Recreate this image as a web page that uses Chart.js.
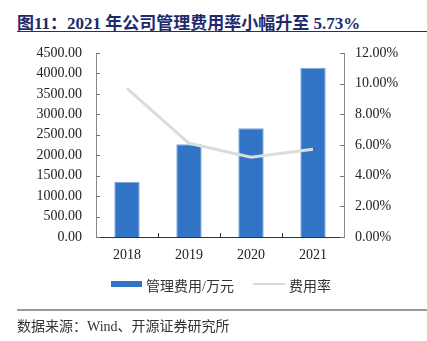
<!DOCTYPE html>
<html>
<head>
<meta charset="utf-8">
<script src="https://cdn.jsdelivr.net/npm/chart.js@4/dist/chart.umd.min.js"></script>
<style>
  body { margin: 0; background: #fff; }
  #wrap { position: relative; width: 427px; height: 341px; overflow: hidden; }
  #chart { position: absolute; left: 0; top: 0; }
  .title { position: absolute; left: 17px; top: 9px; font: bold 17px "Liberation Serif", "Noto Sans CJK SC", serif; color: #1f2a6b; white-space: nowrap; }
  .rule-top { position: absolute; left: 17px; top: 31px; width: 410px; height: 1px; background: #333; }
  .rule-bot { position: absolute; left: 17px; top: 309px; width: 410px; height: 2px; background: #9a9a9a; }
  .source { position: absolute; left: 17px; top: 315px; font: 14px "Liberation Serif", "Noto Sans CJK SC", serif; color: #333; white-space: nowrap; }
  .legend { position: absolute; top: 275px; font: 14px "Liberation Serif", "Noto Sans CJK SC", serif; color: #333; white-space: nowrap; }
  .sw { position: absolute; }
</style>
</head>
<body>
<div id="wrap">
  <div class="title">图11：2021 年公司管理费用率小幅升至 5.73%</div>
  <div class="rule-top"></div>
  <canvas id="chart" width="427" height="341"></canvas>
  <div class="sw" style="left:111px; top:281px; width:31px; height:6px; background:#3174c6;"></div>
  <div class="legend" style="left:146px;">管理费用/万元</div>
  <div class="sw" style="left:253px; top:283px; width:32px; height:2px; background:#d9d9d9;"></div>
  <div class="legend" style="left:289px;">费用率</div>
  <div class="rule-bot"></div>
  <div class="source">数据来源：Wind、开源证券研究所</div>
</div>
<script>
// chart data
const years = ['2018', '2019', '2020', '2021'];
const mgmtCost = [1352, 2267, 2658, 4141];   // 管理费用/万元
const costRate = [9.70, 6.11, 5.20, 5.73];   // 费用率 (%)

const serif = '"Liberation Serif", "Times New Roman", serif';

// short tick marks drawn inside the plot area
const innerTicks = {
  id: 'innerTicks',
  afterDatasetsDraw(chart) {
    const ctx = chart.ctx;
    const area = chart.chartArea;
    const y = chart.scales.y, y1 = chart.scales.y1, x = chart.scales.x;
    ctx.save();
    ctx.lineWidth = 1;
    ctx.strokeStyle = '#777';
    for (let v = 0; v <= 4500; v += 500) {
      const py = Math.round(y.getPixelForValue(v)) + 0.5;
      ctx.beginPath(); ctx.moveTo(area.left, py); ctx.lineTo(area.left + 4, py); ctx.stroke();
    }
    for (let v = 0; v <= 12; v += 2) {
      const py = Math.round(y1.getPixelForValue(v)) + 0.5;
      ctx.beginPath(); ctx.moveTo(area.right - 4, py); ctx.lineTo(area.right, py); ctx.stroke();
    }
    ctx.strokeStyle = '#333';
    for (let i = 0; i < years.length - 1; i++) {
      const px = Math.round((x.getPixelForValue(i) + x.getPixelForValue(i + 1)) / 2) + 0.5;
      ctx.beginPath(); ctx.moveTo(px, area.bottom - 4); ctx.lineTo(px, area.bottom); ctx.stroke();
    }
    ctx.restore();
  }
};

new Chart(document.getElementById('chart').getContext('2d'), {
  data: {
    labels: years,
    datasets: [
      {
        type: 'line',
        label: '费用率',
        data: costRate,
        yAxisID: 'y1',
        borderColor: '#dcdcdc',
        borderWidth: 3,
        pointRadius: 0,
        tension: 0,
        order: 0
      },
      {
        type: 'bar',
        label: '管理费用/万元',
        data: mgmtCost,
        yAxisID: 'y',
        backgroundColor: '#3174c6',
        borderColor: '#7ea6dc',
        borderWidth: 1,
        categoryPercentage: 1,
        barPercentage: 0.41,
        order: 1
      }
    ]
  },
  options: {
    responsive: false,
    animation: false,
    devicePixelRatio: 1,
    layout: { padding: { left: 0, right: 0, top: 53, bottom: 74 } },
    plugins: { legend: { display: false }, tooltip: { enabled: false } },
    scales: {
      x: {
        offset: true,
        grid: { display: false, drawTicks: false },
        border: { display: true, color: '#333', width: 1 },
        ticks: { color: '#222', font: { family: serif, size: 14 }, padding: 10 },
        afterFit(s) { s.height = 30; }
      },
      y: {
        position: 'left',
        min: 0, max: 4500,
        grid: { display: false, drawTicks: false },
        border: { display: true, color: '#888', width: 1 },
        ticks: { stepSize: 500, color: '#222', font: { family: serif, size: 14 }, padding: 14,
                 callback: v => v.toFixed(2) },
        afterFit(s) { s.width = 96; }
      },
      y1: {
        position: 'right',
        min: 0, max: 12,
        grid: { display: false, drawTicks: false },
        border: { display: true, color: '#888', width: 1 },
        ticks: { stepSize: 2, color: '#222', font: { family: serif, size: 14 }, padding: 11,
                 callback: v => v.toFixed(2) + '%' },
        afterFit(s) { s.width = 83; }
      }
    }
  },
  plugins: [innerTicks]
});
</script>
</body>
</html>
